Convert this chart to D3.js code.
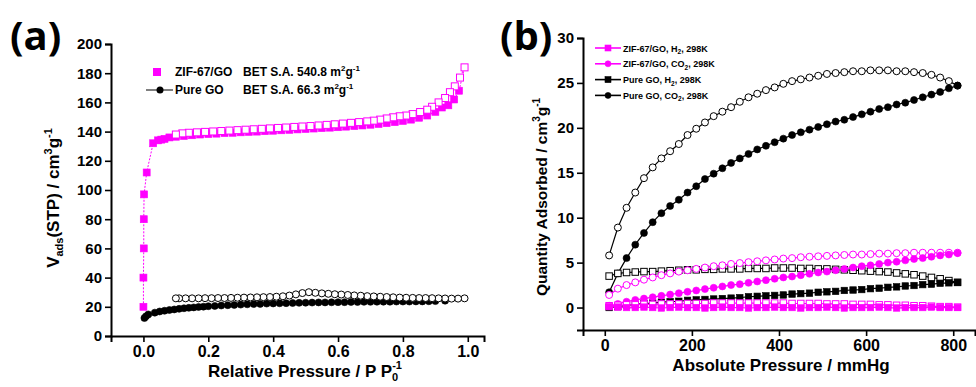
<!DOCTYPE html>
<html>
<head>
<meta charset="utf-8">
<script src="https://cdn.jsdelivr.net/npm/d3@7"></script>
<style>
  body { margin: 0; background: #fff; }
  svg text { font-family: "Liberation Sans", Arial, sans-serif; font-weight: bold; fill: #000; }
</style>
</head>
<body>
<svg id="fig" width="976" height="387"></svg>
<script>
// ---------- Panel (a): N2 isotherms, [relative pressure, volume adsorbed] ----------
const zifN2Ads = [
  [0.000, 20], [0.000, 40], [0.001, 60], [0.001, 80], [0.002, 97], [0.010, 112],
  [0.030, 132], [0.045, 134], [0.055, 134.5], [0.065, 135], [0.080, 136], [0.100, 136.5],
  [0.125, 137], [0.150, 137.5], [0.175, 138], [0.200, 138.3], [0.225, 138.6], [0.250, 139],
  [0.275, 139.2], [0.300, 139.5], [0.325, 139.8], [0.350, 140], [0.375, 140.3], [0.400, 140.6],
  [0.425, 140.9], [0.450, 141.2], [0.475, 141.5], [0.500, 141.8], [0.525, 142.1], [0.550, 142.4],
  [0.575, 142.7], [0.600, 143], [0.625, 143.4], [0.650, 143.8], [0.675, 144.2], [0.700, 144.7],
  [0.725, 145.2], [0.750, 145.8], [0.775, 146.5], [0.800, 147.3], [0.825, 148.2], [0.850, 149.5],
  [0.875, 151], [0.900, 153.5], [0.920, 156.5], [0.940, 158], [0.958, 162], [0.973, 168]
];
const zifN2Des = [
  [0.990, 184], [0.976, 177], [0.960, 171], [0.945, 167], [0.930, 163], [0.910, 160],
  [0.890, 157], [0.875, 155], [0.853, 153.4], [0.830, 152], [0.810, 151], [0.790, 150.5],
  [0.770, 149.8], [0.750, 149], [0.730, 148.2], [0.710, 147.5], [0.690, 147], [0.665, 146.5],
  [0.640, 146], [0.615, 145.5], [0.590, 145], [0.565, 144.6], [0.540, 144.2], [0.515, 143.8],
  [0.490, 143.5], [0.465, 143.2], [0.440, 142.8], [0.415, 142.5], [0.390, 142.2], [0.365, 141.9],
  [0.340, 141.6], [0.315, 141.3], [0.290, 141], [0.265, 140.7], [0.240, 140.4], [0.215, 140.1],
  [0.190, 139.8], [0.165, 139.5], [0.140, 139.2], [0.120, 138.8], [0.100, 138]
];
const pureGoN2Ads = [
  [0.003, 12.3], [0.008, 13.5], [0.015, 14.8], [0.035, 16.0], [0.050, 16.8], [0.065, 17.3],
  [0.080, 17.8], [0.095, 18.2], [0.110, 18.6], [0.125, 19.0], [0.140, 19.3], [0.155, 19.6],
  [0.170, 19.9], [0.185, 20.1], [0.20, 20.4], [0.22, 20.6], [0.24, 20.9], [0.26, 21.1],
  [0.28, 21.3], [0.30, 21.5], [0.32, 21.7], [0.34, 21.9], [0.36, 22.0], [0.38, 22.2],
  [0.40, 22.3], [0.42, 22.4], [0.44, 22.5], [0.46, 22.6], [0.48, 22.7], [0.50, 22.8],
  [0.52, 22.9], [0.54, 23.0], [0.56, 23.0], [0.58, 23.1], [0.60, 23.2], [0.62, 23.2],
  [0.64, 23.3], [0.66, 23.3], [0.68, 23.4], [0.70, 23.4], [0.72, 23.5], [0.74, 23.5],
  [0.76, 23.5], [0.78, 23.6], [0.80, 23.6], [0.82, 23.6], [0.84, 23.7], [0.86, 23.7],
  [0.88, 23.8], [0.90, 23.9], [0.93, 24.2]
];
const pureGoN2Des = [
  [0.99, 25.8], [0.97, 25.6], [0.95, 25.6], [0.93, 25.7], [0.91, 25.8], [0.89, 25.9],
  [0.87, 26.0], [0.85, 26.0], [0.83, 26.1], [0.81, 26.2], [0.79, 26.3], [0.77, 26.5],
  [0.75, 26.7], [0.73, 26.9], [0.71, 27.1], [0.69, 27.3], [0.67, 27.6], [0.65, 27.8],
  [0.63, 28.1], [0.61, 28.4], [0.59, 28.6], [0.57, 28.9], [0.55, 29.2], [0.53, 29.6],
  [0.51, 30.0], [0.49, 29.4], [0.47, 28.5], [0.45, 27.7], [0.43, 27.2], [0.41, 26.9],
  [0.39, 26.7], [0.37, 26.6], [0.35, 26.5], [0.33, 26.4], [0.31, 26.3], [0.29, 26.2],
  [0.27, 26.1], [0.25, 26.0], [0.23, 26.0], [0.21, 25.9], [0.19, 25.9], [0.17, 25.8],
  [0.15, 25.8], [0.13, 25.8], [0.11, 25.8], [0.10, 25.8]
];
const ticksAX = [0.0, 0.2, 0.4, 0.6, 0.8, 1.0];
const ticksAY = [0, 20, 40, 60, 80, 100, 120, 140, 160, 180, 200];

// ---------- Panel (b): H2 / CO2 isotherms at 298 K, pressure in mmHg ----------
const pressureB = [10, 30, 50, 70, 90, 110, 130, 150, 170, 190, 210, 230, 250, 270, 290, 310, 330,
  350, 370, 390, 410, 430, 450, 470, 490, 510, 530, 550, 570, 590, 610, 630, 650, 670, 690, 710,
  730, 750, 770, 790, 810];
const zifH2Ads = [0.1, 0.05, 0.0, 0.0, 0.05, 0.0, -0.05, 0.0, 0.05, 0.0, 0.0, -0.05, 0.0, 0.05,
  0.0, 0.0, -0.05, 0.0, 0.0, 0.05, 0.0, 0.0, -0.05, 0.0, 0.0, 0.05, 0.0, -0.05, 0.0, 0.0, 0.0,
  0.05, 0.0, -0.05, 0.0, 0.0, 0.0, 0.05, 0.0, 0.0, 0.0];
const zifH2Des = [0.2, 0.25, 0.3, 0.3, 0.35, 0.35, 0.4, 0.4, 0.4, 0.45, 0.45, 0.45, 0.5, 0.5,
  0.5, 0.5, 0.5, 0.5, 0.5, 0.5, 0.5, 0.45, 0.45, 0.45, 0.45, 0.4, 0.4, 0.4, 0.35, 0.35, 0.35,
  0.3, 0.3, 0.25, 0.25, 0.2, 0.2, 0.15, 0.1, 0.1, 0.05];
const zifCO2Ads = [0.2, 0.4, 0.65, 0.85, 1.0, 1.15, 1.3, 1.45, 1.6, 1.75, 1.9, 2.05, 2.2, 2.35,
  2.5, 2.6, 2.75, 2.9, 3.05, 3.2, 3.35, 3.45, 3.6, 3.75, 3.9, 4.0, 4.15, 4.3, 4.45, 4.6, 4.7,
  4.85, 5.0, 5.1, 5.25, 5.4, 5.5, 5.65, 5.8, 5.9, 6.05];
const zifCO2Des = [1.4, 2.1, 2.5, 2.8, 3.1, 3.35, 3.6, 3.8, 4.0, 4.15, 4.3, 4.45, 4.6, 4.7,
  4.85, 4.95, 5.05, 5.15, 5.25, 5.35, 5.45, 5.5, 5.6, 5.65, 5.7, 5.75, 5.8, 5.85, 5.9, 5.9,
  5.95, 6.0, 6.0, 6.05, 6.05, 6.1, 6.1, 6.1, 6.1, 6.1, 6.1];
const pureGoH2Ads = [0.0, 0.1, 0.25, 0.35, 0.45, 0.5, 0.6, 0.65, 0.7, 0.8, 0.85, 0.9, 0.95, 1.0,
  1.05, 1.1, 1.2, 1.25, 1.3, 1.35, 1.4, 1.5, 1.55, 1.6, 1.7, 1.75, 1.8, 1.9, 1.95, 2.0, 2.1,
  2.15, 2.25, 2.3, 2.4, 2.45, 2.55, 2.6, 2.7, 2.75, 2.8];
const pureGoH2Des = [3.5, 3.8, 3.9, 3.95, 4.0, 4.0, 4.05, 4.1, 4.15, 4.2, 4.2, 4.25, 4.25, 4.3,
  4.3, 4.3, 4.35, 4.35, 4.35, 4.4, 4.4, 4.4, 4.35, 4.35, 4.3, 4.3, 4.25, 4.2, 4.15, 4.1, 4.05,
  4.0, 3.95, 3.85, 3.75, 3.65, 3.5, 3.35, 3.2, 3.0, 2.8];
const pureGoCO2Ads = [1.7, 3.8, 5.5, 7.0, 8.3, 9.5, 10.5, 11.3, 12.0, 12.8, 13.5, 14.3, 14.9,
  15.5, 16.1, 16.6, 17.1, 17.6, 18.0, 18.4, 18.8, 19.2, 19.5, 19.8, 20.1, 20.4, 20.7, 20.9,
  21.2, 21.5, 21.8, 22.1, 22.3, 22.6, 22.8, 23.1, 23.4, 23.7, 24.0, 24.4, 24.7];
const pureGoCO2Des = [5.8, 8.9, 11.1, 12.8, 14.4, 15.6, 16.6, 17.4, 18.2, 19.2, 19.9, 20.6,
  21.3, 21.8, 22.3, 22.9, 23.4, 23.8, 24.2, 24.5, 24.9, 25.2, 25.4, 25.6, 25.8, 26.0, 26.1,
  26.2, 26.3, 26.3, 26.4, 26.4, 26.4, 26.3, 26.3, 26.2, 26.1, 25.9, 25.6, 25.2, 24.7];
const ticksBX = [0, 200, 400, 600, 800];
const ticksBY = [0, 5, 10, 15, 20, 25, 30];
const legendB = [
  { label: ["ZIF-67/GO, H", "2", ", 298K"], color: "#ff00ff", shape: "square" },
  { label: ["ZIF-67/GO, CO", "2", ", 298K"], color: "#ff00ff", shape: "circle" },
  { label: ["Pure GO, H", "2", ", 298K"], color: "#000000", shape: "square" },
  { label: ["Pure GO, CO", "2", ", 298K"], color: "#000000", shape: "circle" }
];

const MAGENTA = "#ff00ff";
const svg = d3.select("#fig");

// Shared axis drawing: major ticks with labels, minor ticks without.
function drawAxes(g, x, y, xMajor, xMinor, yMajor, yMinor, xFmt, yFmt) {
  const xa = g.append("g").attr("transform", `translate(0,${y.range()[0]})`);
  xa.call(d3.axisBottom(x).tickValues(xMinor).tickSize(3.5).tickFormat(""));
  xa.call(d3.axisBottom(x).tickValues(xMajor).tickSize(6).tickPadding(4).tickFormat(xFmt));
  const ya = g.append("g").attr("transform", `translate(${x.range()[0]},0)`);
  ya.call(d3.axisLeft(y).tickValues(yMinor).tickSize(3.5).tickFormat(""));
  ya.call(d3.axisLeft(y).tickValues(yMajor).tickSize(6).tickPadding(3).tickFormat(yFmt));
  g.selectAll(".domain").attr("stroke-width", 2).attr("stroke", "#000");
  g.selectAll(".tick line").attr("stroke-width", 1.6).attr("stroke", "#000");
  xa.selectAll("text").style("font-size", "16px").attr("fill", "#000");
  ya.selectAll("text").style("font-size", "15px").attr("fill", "#000");
}

function drawMarkers(g, pts, shape, color, open, size) {
  const fill = open ? "#fff" : color;
  if (shape === "square") {
    g.selectAll(null).data(pts).enter().append("rect")
      .attr("x", d => d[0] - size / 2).attr("y", d => d[1] - size / 2)
      .attr("width", size).attr("height", size)
      .attr("fill", fill).attr("stroke", color).attr("stroke-width", open ? 1 : 0.6);
  } else {
    g.selectAll(null).data(pts).enter().append("circle")
      .attr("cx", d => d[0]).attr("cy", d => d[1]).attr("r", size / 2)
      .attr("fill", fill).attr("stroke", color).attr("stroke-width", open ? 1 : 0.6);
  }
}

// ================= Panel (a) =================
const xA = d3.scaleLinear().domain([-0.1, 1.05]).range([111, 484]);
const yA = d3.scaleLinear().domain([0, 200]).range([336, 44]);
const gA = svg.append("g");
drawAxes(gA, xA, yA, ticksAX, d3.range(-0.1, 1.05, 0.1).map(v => +v.toFixed(1)),
  ticksAY, d3.range(10, 200, 20), d3.format(".1f"), d3.format("d"));

const lineA = d3.line().x(d => xA(d[0])).y(d => yA(d[1]));
gA.append("path").attr("d", lineA(zifN2Ads.concat(zifN2Des))).attr("fill", "none")
  .attr("stroke", MAGENTA).attr("stroke-width", 1).attr("stroke-dasharray", "2,1.5");
gA.append("path").attr("d", lineA(pureGoN2Ads.concat(pureGoN2Des))).attr("fill", "none")
  .attr("stroke", "#000").attr("stroke-width", 0.8);
const toPxA = arr => arr.map(d => [xA(d[0]), yA(d[1])]);
drawMarkers(gA, toPxA(zifN2Ads), "square", MAGENTA, false, 7);
drawMarkers(gA, toPxA(zifN2Des), "square", MAGENTA, true, 7);
drawMarkers(gA, toPxA(pureGoN2Ads), "circle", "#000", false, 7);
drawMarkers(gA, toPxA(pureGoN2Des), "circle", "#000", true, 7);

// legend (a)
const legA = gA.append("g").style("font-size", "12px");
legA.append("rect").attr("x", 153).attr("y", 68).attr("width", 8).attr("height", 8).attr("fill", MAGENTA);
legA.append("line").attr("x1", 146).attr("x2", 173).attr("y1", 90).attr("y2", 90).attr("stroke", "#000").attr("stroke-width", 1);
legA.append("circle").attr("cx", 160).attr("cy", 90).attr("r", 3.5).attr("fill", "#000");
function legendText(g, x, y, parts) {
  const t = g.append("text").attr("x", x).attr("y", y);
  parts.forEach(p => {
    const s = t.append("tspan").text(p.t);
    if (p.sup) s.attr("dy", p.dy).style("font-size", p.size || "8px");
    else if (p.dy) s.attr("dy", p.dy);
  });
  return t;
}
legendText(legA, 175, 76, [{ t: "ZIF-67/GO" }]);
legendText(legA, 243, 76, [{ t: "BET S.A. 540.8 m" }, { t: "2", sup: true, dy: -5 }, { t: "g", dy: 5 }, { t: "-1", sup: true, dy: -5 }]);
legendText(legA, 175, 94, [{ t: "Pure GO" }]);
legendText(legA, 243, 94, [{ t: "BET S.A.  66.3 m" }, { t: "2", sup: true, dy: -5 }, { t: "g", dy: 5 }, { t: "-1", sup: true, dy: -5 }]);

// axis titles (a)
const xtA = svg.append("text").attr("x", 305).attr("y", 377).attr("text-anchor", "middle").style("font-size", "17px");
xtA.append("tspan").text("Relative Pressure / P P");
xtA.append("tspan").text("0").attr("dy", 4).style("font-size", "11px");
xtA.append("tspan").text("-1").attr("dx", -6).attr("dy", -12).style("font-size", "11px");

const ytA = svg.append("text").attr("transform", "translate(59,198) rotate(-90)").attr("text-anchor", "middle").style("font-size", "17px");
ytA.append("tspan").text("V");
ytA.append("tspan").text("ads").attr("dy", 4).style("font-size", "11px");
ytA.append("tspan").text("(STP) / cm").attr("dy", -4);
ytA.append("tspan").text("3").attr("dy", -7).style("font-size", "11px");
ytA.append("tspan").text("g").attr("dy", 7);
ytA.append("tspan").text("-1").attr("dy", -7).style("font-size", "11px");

svg.append("text").attr("x", 10).attr("y", 50).style("font-size", "40px")
  .style("font-family", "'Open Sans', 'DejaVu Sans', sans-serif").text("(a)");

// ================= Panel (b) =================
const xB = d3.scaleLinear().domain([-50, 850]).range([583, 975]);
const yB = d3.scaleLinear().domain([-2.5, 30]).range([330, 38]);
const gB = svg.append("g");
drawAxes(gB, xB, yB, ticksBX, [100, 300, 500, 700], ticksBY, [-2.5, 2.5, 7.5, 12.5, 17.5, 22.5, 27.5], d3.format("d"), d3.format("d"));

const seriesB = [
  { vals: pureGoCO2Des, color: "#000", shape: "circle", open: true },
  { vals: pureGoCO2Ads, color: "#000", shape: "circle", open: false },
  { vals: pureGoH2Des, color: "#000", shape: "square", open: true },
  { vals: pureGoH2Ads, color: "#000", shape: "square", open: false },
  { vals: zifCO2Des, color: MAGENTA, shape: "circle", open: true },
  { vals: zifCO2Ads, color: MAGENTA, shape: "circle", open: false },
  { vals: zifH2Des, color: MAGENTA, shape: "square", open: true },
  { vals: zifH2Ads, color: MAGENTA, shape: "square", open: false }
];
const lineB = d3.line();
seriesB.forEach(s => {
  const pts = pressureB.map((p, i) => [xB(p), yB(s.vals[i])]);
  const sg = gB.append("g");
  sg.append("path").attr("d", lineB(pts)).attr("fill", "none").attr("stroke", s.color).attr("stroke-width", 1.2);
  drawMarkers(sg, pts, s.shape, s.color, s.open, s.shape === "square" ? 6.5 : 7);
});

// legend (b)
const legB = gB.append("g").style("font-size", "9px");
legendB.forEach((d, i) => {
  const cy = 48 + i * 15.8;
  legB.append("line").attr("x1", 595).attr("x2", 621).attr("y1", cy).attr("y2", cy)
    .attr("stroke", d.color).attr("stroke-width", 1.6);
  drawMarkers(legB.append("g"), [[608, cy]], d.shape, d.color, false, 6);
  const t = legB.append("text").attr("x", 623).attr("y", cy + 3.5);
  t.append("tspan").text(d.label[0]);
  t.append("tspan").text(d.label[1]).attr("dy", 2.5).style("font-size", "6.5px");
  t.append("tspan").text(d.label[2]).attr("dy", -2.5);
});

// axis titles (b)
svg.append("text").attr("x", 781).attr("y", 371).attr("text-anchor", "middle").style("font-size", "17px")
  .text("Absolute Pressure / mmHg");
const ytB = svg.append("text").attr("transform", "translate(547,197) rotate(-90)").attr("text-anchor", "middle").style("font-size", "15.5px");
ytB.append("tspan").text("Quantity Adsorbed / cm");
ytB.append("tspan").text("3").attr("dy", -7).style("font-size", "10px");
ytB.append("tspan").text("g").attr("dy", 7);
ytB.append("tspan").text("-1").attr("dy", -7).style("font-size", "10px");

svg.append("text").attr("x", 500).attr("y", 50).style("font-size", "40px")
  .style("font-family", "'Open Sans', 'DejaVu Sans', sans-serif").text("(b)");
</script>
</body>
</html>
